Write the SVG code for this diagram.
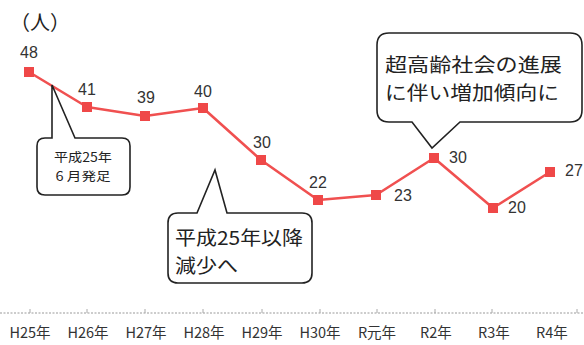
<svg xmlns="http://www.w3.org/2000/svg" width="584" height="345" viewBox="0 0 584 345">
<style>
.jp{font-family:"Noto Sans CJK JP","Liberation Sans",sans-serif;fill:#222}
.val{font-family:"Liberation Sans","Noto Sans",sans-serif;font-size:16px;fill:#333;text-anchor:middle}
.xl{font-family:"Noto Sans CJK JP","Liberation Sans",sans-serif;font-size:14.5px;fill:#333;text-anchor:middle}
.call{fill:#fff;stroke:#222;stroke-width:1.6;stroke-linejoin:miter}
.mk{fill:#ef4848}
</style>
<rect width="584" height="345" fill="#fff"/>
<text class="jp" x="10" y="30" font-size="20">（人）</text>
<g id="axis">
<line x1="0" y1="313" x2="584" y2="313" stroke="#999" stroke-width="1" stroke-dasharray="2,1.5"/>
<g stroke="#aaa" stroke-width="1">
<line x1="30" y1="309" x2="30" y2="313"/><line x1="87" y1="309" x2="87" y2="313"/><line x1="145" y1="309" x2="145" y2="313"/><line x1="203" y1="309" x2="203" y2="313"/><line x1="262" y1="309" x2="262" y2="313"/><line x1="320" y1="309" x2="320" y2="313"/><line x1="377" y1="309" x2="377" y2="313"/><line x1="435" y1="309" x2="435" y2="313"/><line x1="492" y1="309" x2="492" y2="313"/><line x1="577" y1="309" x2="577" y2="313"/>
</g>
<text class="xl" x="30" y="338">H25年</text>
<text class="xl" x="88" y="338">H26年</text>
<text class="xl" x="146" y="338">H27年</text>
<text class="xl" x="204" y="338">H28年</text>
<text class="xl" x="262" y="338">H29年</text>
<text class="xl" x="320" y="338">H30年</text>
<text class="xl" x="377" y="338">R元年</text>
<text class="xl" x="436" y="338">R2年</text>
<text class="xl" x="494" y="338">R3年</text>
<text class="xl" x="552" y="338">R4年</text>
</g>
<g id="connectors">
<polyline points="29,72 87,107 145,116 203,108 261,160 318,200 376,195 434,158 493,208 550,172" fill="none" stroke="#f05050" stroke-width="2.6" stroke-linejoin="round"/>
</g>
<g id="markers">
<rect class="mk" x="24" y="67" width="10" height="10"/>
<rect class="mk" x="82" y="102" width="10" height="10"/>
<rect class="mk" x="140" y="111" width="10" height="10"/>
<rect class="mk" x="198" y="103" width="10" height="10"/>
<rect class="mk" x="256" y="155" width="10" height="10"/>
<rect class="mk" x="313" y="195" width="10" height="10"/>
<rect class="mk" x="371" y="190" width="10" height="10"/>
<rect class="mk" x="429" y="153" width="10" height="10"/>
<rect class="mk" x="488" y="203" width="10" height="10"/>
<rect class="mk" x="545" y="167" width="10" height="10"/>
</g>
<g id="values">
<text class="val" x="29" y="58">48</text>
<text class="val" x="87" y="95">41</text>
<text class="val" x="146" y="103">39</text>
<text class="val" x="203" y="97">40</text>
<text class="val" x="262" y="148">30</text>
<text class="val" x="318" y="188">22</text>
<text class="val" x="403" y="201">23</text>
<text class="val" x="458" y="163">30</text>
<text class="val" x="517" y="213">20</text>
<text class="val" x="574" y="176">27</text>
</g>
<g id="callout1">
<path class="call" d="M45,138 L52,138 L52,85 L75,138 L122,138 Q130,138 130,146 L130,187 Q130,195 122,195 L45,195 Q37,195 37,187 L37,146 Q37,138 45,138 Z"/>
<text class="jp" x="83" y="162" font-size="12.5" text-anchor="middle" textLength="58" lengthAdjust="spacingAndGlyphs">平成25年</text>
<text class="jp" x="83" y="181" font-size="12.5" text-anchor="middle" textLength="55" lengthAdjust="spacingAndGlyphs">6 月発足</text>
</g>
<g id="callout2">
<path class="call" d="M178,213 L197,213 L215,170 L227,213 L302,213 Q312,213 312,223 L312,273 Q312,283 302,283 L178,283 Q168,283 168,273 L168,223 Q168,213 178,213 Z"/>
<text class="jp" x="175" y="245" font-size="19" textLength="128" lengthAdjust="spacingAndGlyphs">平成25年以降</text>
<text class="jp" x="175" y="273" font-size="19" textLength="63" lengthAdjust="spacingAndGlyphs">減少へ</text>
</g>
<g id="callout3">
<path class="call" d="M389,33 L570,33 Q582,33 582,45 L582,110 Q582,122 570,122 L460,122 L432,148 L412,122 L389,122 Q377,122 377,110 L377,45 Q377,33 389,33 Z"/>
<text class="jp" x="385" y="72" font-size="19" textLength="177" lengthAdjust="spacingAndGlyphs">超高齢社会の進展</text>
<text class="jp" x="385" y="100" font-size="19" textLength="174" lengthAdjust="spacingAndGlyphs">に伴い増加傾向に</text>
</g>
</svg>
